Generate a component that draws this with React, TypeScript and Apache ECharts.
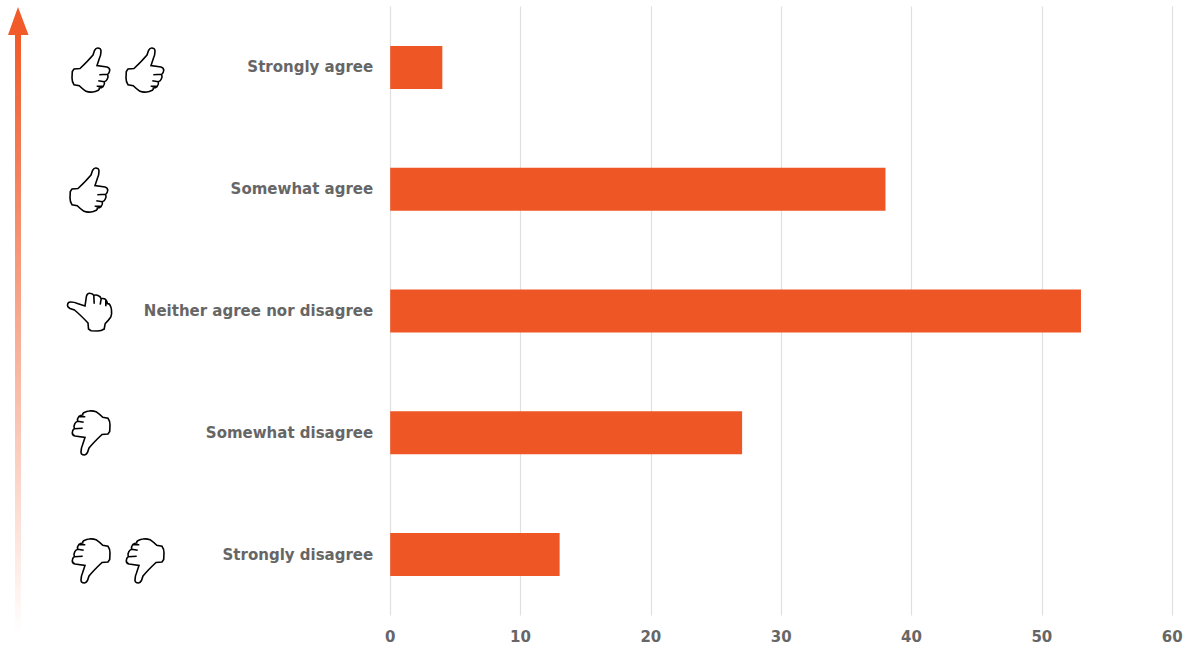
import React, { useEffect, useRef } from "react";
import * as echarts from "echarts";

const categories = ["Strongly disagree", "Somewhat disagree", "Neither agree nor disagree", "Somewhat agree", "Strongly agree"];
const values = [13, 27, 53, 38, 4];
const axisMax = 60;
const axisStep = 10;

const HAND_D =
  "M2 21 L8 20.5 Q16 13 21 7 Q22 4 22.5 2.5 Q24 0 25.5 0 Q29 0 29 3 Q29 7 27.5 10 L25 17.5 L35 19 Q38 20 37.7 22.5 Q37.5 25 35.7 26.3 Q36.5 29 35.3 31 Q34.5 33 32.3 33.7 Q33 36.5 31.3 38.3 Q29.5 40 27.3 40 Q27.5 41.5 26.3 42.3 Q23 44 21 44 Q17 44.5 14 43.3 Q10 40.5 7.3 37.7 L2 36.7 Q0 34 0 30 L0.3 23.5 Z " +
  "M27.3 26.7 L35.7 26.3 M26.3 32.7 L32.3 33.7 M24.7 38.3 L31.3 38.3";

echarts.graphic.registerShape("hand", echarts.graphic.extendPath(HAND_D, {}) as any);

const handStyle = { fill: "#fff", stroke: "#000", lineWidth: 1.6 };
const up = (x: number, y: number) => ({ type: "hand", x, y, style: handStyle });
const down = (x: number, y: number) => ({ type: "hand", x, y, rotation: Math.PI, style: handStyle });

export default function App() {
  const ref = useRef<HTMLDivElement>(null);
  useEffect(() => {
    document.body.style.margin = "0";
    const chart = echarts.init(ref.current!, null, { renderer: "svg" });
    const font = "'DejaVu Sans', sans-serif";
    chart.setOption({
      animation: false,
      grid: { left: 390.2, top: 6.5, width: 782, height: 609, containLabel: false },
      xAxis: {
        type: "value",
        min: 0,
        max: axisMax,
        interval: axisStep,
        axisLine: { show: false },
        axisTick: { show: false },
        splitLine: { show: true, lineStyle: { color: "#e0e0e0", width: 1.2 } },
        axisLabel: { color: "#666666", fontFamily: font, fontWeight: 700, fontSize: 15, margin: 14 },
      },
      yAxis: {
        type: "category",
        data: categories,
        axisLine: { show: false },
        axisTick: { show: false },
        splitLine: { show: false },
        axisLabel: { color: "#666666", fontFamily: font, fontWeight: 700, fontSize: 15, margin: 17 },
      },
      series: [
        { type: "bar", data: values, barWidth: 43, itemStyle: { color: "#EF5625" } },
      ],
      graphic: [
        {
          type: "rect",
          shape: { x: 15, y: 34, width: 6, height: 600 },
          style: {
            fill: new echarts.graphic.LinearGradient(0, 0, 0, 1, [
              { offset: 0, color: "#F15A29" },
              { offset: 1, color: "#FFFFFF" },
            ]),
          },
        },
        {
          type: "polygon",
          shape: { points: [[8, 35], [28.5, 35], [18, 7]] },
          style: { fill: "#F15A29" },
        },
        up(72, 48),
        up(126, 48),
        up(70, 168),
        { type: "hand", x: 67.5, y: 331, rotation: Math.PI / 2, style: handStyle },
        down(110, 455),
        down(110, 583),
        down(164, 583),
      ],
    });
    return () => chart.dispose();
  }, []);
  return <div ref={ref} style={{ position: "absolute", left: 0, top: 0, width: 1187, height: 647 }} />;
}
